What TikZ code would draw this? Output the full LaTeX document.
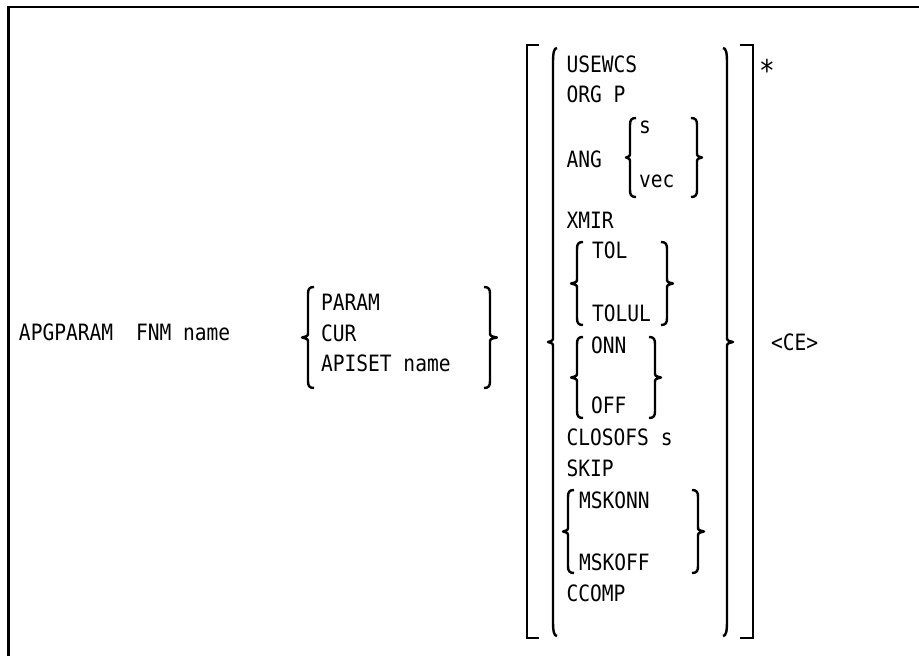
\documentclass[tikz,border=0pt]{standalone}
\usepackage{fontspec}
\newfontfamily\dmono[FakeStretch=0.87]{DejaVu Sans Mono}
\tikzset{
  frame/.style={line width=2.6pt},
  brk/.style={line width=2.7pt, line cap=butt, line join=miter},
  brc/.style={line width=2.4pt, line cap=butt, line join=round},
  txt/.style={anchor=base west, inner sep=0pt, outer sep=0pt, font=\dmono\fontsize{22.5}{26}\selectfont}
}
% left brace: x, top, bottom, tip x, hook dx, hook dy
\newcommand\lbrc[6]{\draw[brc] ({#1+#5},{#2}) .. controls ({#1+0.2*#5},{#2}) and ({#1},{#2+0.3*#6}) .. ({#1},{#2+#6})
  -- ({#1},{(#2+#3)/2-5}) .. controls ({#1},{(#2+#3)/2-1.5}) .. ({#4},{(#2+#3)/2})
  .. controls ({#1},{(#2+#3)/2+1.5}) .. ({#1},{(#2+#3)/2+5})
  -- ({#1},{#3-#6}) .. controls ({#1},{#3-0.3*#6}) and ({#1+0.2*#5},{#3}) .. ({#1+#5},{#3});}
% right brace: x, top, bottom, tip x, hook dx, hook dy
\newcommand\rbrc[6]{\draw[brc] ({#1-#5},{#2}) .. controls ({#1-0.2*#5},{#2}) and ({#1},{#2+0.3*#6}) .. ({#1},{#2+#6})
  -- ({#1},{(#2+#3)/2-5}) .. controls ({#1},{(#2+#3)/2-1.5}) .. ({#4},{(#2+#3)/2})
  .. controls ({#1},{(#2+#3)/2+1.5}) .. ({#1},{(#2+#3)/2+5})
  -- ({#1},{#3-#6}) .. controls ({#1},{#3-0.3*#6}) and ({#1-0.2*#5},{#3}) .. ({#1-#5},{#3});}
\begin{document}
\begin{tikzpicture}[x=1pt, y=-1pt]
\useasboundingbox (0,0) rectangle (919,656);
\fill[white] (0,0) rectangle (919,656);
% frame (top and left edges)
\draw[frame] (919,7) -- (8.5,7) -- (8.5,656);

% left part
\node[txt] (apg) at (19,340) {APGPARAM};
\node[txt] (fnm) at (136,340) {FNM name};

% first choice
\lbrc{308}{287}{388}{302}{6}{7}
\rbrc{490}{287}{388}{497}{6}{7}
\node[txt] (param) at (321,310) {PARAM};
\node[txt] (cur) at (321,341) {CUR};
\node[txt] (apiset) at (321,371) {APISET name};

% outer brackets
\draw[brk] (539,45) -- (527,45) -- (527,638) -- (539,638);
\draw[brk] (740,45) -- (753,45) -- (753,638) -- (740,638);
\node[anchor=center, inner sep=0pt, font=\dmono\fontsize{30}{32}\selectfont] (star) at (767,70) {*};

% big braces
\lbrc{553}{48}{636}{548}{4}{16}
\rbrc{727}{48}{636}{733}{4}{16}

% options
\node[txt] (usewcs) at (566.5,72) {USEWCS};
\node[txt] (orgp) at (566.5,102) {ORG P};
\node[txt] (ang) at (566.5,167) {ANG};
\lbrc{630}{118}{197}{626}{6}{7}
\rbrc{697}{118}{197}{702}{6}{7}
\node[txt] (s) at (639,133) {s};
\node[txt] (vec) at (639,187) {vec};
\node[txt] (xmir) at (566.5,228) {XMIR};
\lbrc{577}{242}{325}{571}{6}{7}
\rbrc{667}{242}{325}{673}{6}{7}
\node[txt] (tol) at (592,258) {TOL};
\node[txt] (tolul) at (592,321) {TOLUL};
\lbrc{577}{337}{418}{571}{6}{7}
\rbrc{655}{337}{418}{661}{6}{7}
\node[txt] (onn) at (591,353) {ONN};
\node[txt] (off) at (591,413) {OFF};
\node[txt] (closofs) at (566.5,445) {CLOSOFS s};
\node[txt] (skip) at (566.5,476) {SKIP};
\lbrc{568}{490}{573}{563}{6}{7}
\rbrc{698}{490}{573}{704}{6}{7}
\node[txt] (mskonn) at (579,508) {MSKONN};
\node[txt] (mskoff) at (579,570) {MSKOFF};
\node[txt] (ccomp) at (566.5,601) {CCOMP};

% terminator
\node[txt] (ce) at (771,350) {<CE>};
\end{tikzpicture}
\end{document}
